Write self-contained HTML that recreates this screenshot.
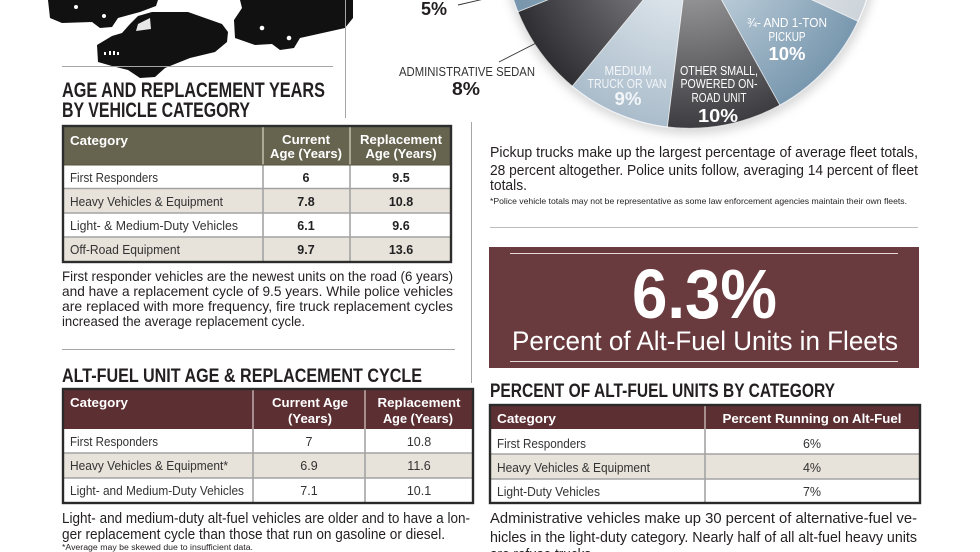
<!DOCTYPE html>
<html>
<head>
<meta charset="utf-8">
<style>
  html,body{margin:0;padding:0;background:#fff;}
  svg{display:block;}
  text{font-family:"Liberation Sans", sans-serif;}
</style>
</head>
<body>
<svg width="980" height="552" viewBox="0 0 980 552" xmlns="http://www.w3.org/2000/svg">
<defs>
  <radialGradient id="gOther" gradientUnits="userSpaceOnUse" cx="690" cy="-57" r="186">
    <stop offset="0.3" stop-color="#929295"/><stop offset="1" stop-color="#3c3c40"/>
  </radialGradient>
  <radialGradient id="gSedan" gradientUnits="userSpaceOnUse" cx="690" cy="-57" r="186">
    <stop offset="0.3" stop-color="#7c7c80"/><stop offset="1" stop-color="#2e2e32"/>
  </radialGradient>
  <radialGradient id="gMed" gradientUnits="userSpaceOnUse" cx="690" cy="-57" r="186">
    <stop offset="0.3" stop-color="#dce4ea"/><stop offset="1" stop-color="#aabccb"/>
  </radialGradient>
  <radialGradient id="gPick" gradientUnits="userSpaceOnUse" cx="690" cy="-57" r="186">
    <stop offset="0.3" stop-color="#bccdd9"/><stop offset="1" stop-color="#7897ae"/>
  </radialGradient>
  <radialGradient id="g5" gradientUnits="userSpaceOnUse" cx="690" cy="-57" r="186">
    <stop offset="0.3" stop-color="#a6bac9"/><stop offset="1" stop-color="#7694ab"/>
  </radialGradient>
  <radialGradient id="gLight" gradientUnits="userSpaceOnUse" cx="690" cy="-57" r="186">
    <stop offset="0.3" stop-color="#e8ebee"/><stop offset="1" stop-color="#cdd4da"/>
  </radialGradient>
  <filter id="sh" x="-20%" y="-20%" width="140%" height="140%">
    <feGaussianBlur stdDeviation="5"/>
  </filter>
  <clipPath id="pc"><circle cx="690" cy="-57" r="186"/></clipPath>
</defs>

<!-- ===== Vehicles ===== -->
<g fill="#111">
  <path d="M48,0 L158,0 L156,6 L140,12 L118,18 L112,27 L100,28 L92,22 L62,23 L50,18 Z"/>
  <path d="M97,45 L112,36 L122,33 L130,24 L138,16 L152,12 L188,12 L205,18 L222,24 L228,32 L227,42 L215,52 L190,58 L165,68 L155,77 L140,78 L128,70 L112,66 L98,62 Z"/>
  <path d="M240,0 L353,0 L353,18 L345,28 L300,38 L294,48 L280,50 L272,44 L255,45 L235,38 L234,20 L242,8 Z"/>
</g>
<g fill="#fff">
  <circle cx="76" cy="7" r="2"/>
  <circle cx="104" cy="16" r="2"/>
  <circle cx="262" cy="28" r="2.3"/>
  <circle cx="289" cy="38" r="2.3"/>
  <path d="M138,24 L150,18 L151,29 L136,31 Z" opacity="0.9"/>
  <rect x="104" y="52" width="2" height="3"/>
  <rect x="109" y="51" width="2" height="4"/>
  <rect x="113" y="51" width="2" height="4"/>
  <rect x="117" y="52" width="2" height="3"/>
</g>

<!-- divider lines -->
<g stroke="#a5a5a5" stroke-width="1" fill="none">
  <line x1="62" y1="66.5" x2="333" y2="66.5"/>
  <line x1="345.5" y1="0" x2="345.5" y2="118"/>
  <line x1="62" y1="349.5" x2="455" y2="349.5"/>
  <line x1="471.5" y1="122" x2="471.5" y2="383"/>
  <line x1="490" y1="227.5" x2="918" y2="227.5" stroke="#bdbdbd"/>
</g>

<!-- ===== Pie ===== -->
<circle cx="691" cy="-54" r="188" fill="#9a9a9a" filter="url(#sh)" opacity="0.4"/>
<g clip-path="url(#pc)">
  <rect x="480" y="-250" width="420" height="400" fill="url(#gLight)"/>
  <path d="M690,-57 L858.6,21.6 A186,186 0 0,1 780.2,105.7 Z" fill="url(#gPick)"/>
  <path d="M690,-57 L780.2,105.7 A186,186 0 0,1 667.3,127.6 Z" fill="url(#gOther)"/>
  <path d="M690,-57 L667.3,127.6 A186,186 0 0,1 571.9,86.7 Z" fill="url(#gMed)"/>
  <path d="M690,-57 L571.9,86.7 A186,186 0 0,1 517.3,12.1 Z" fill="url(#gSedan)"/>
  <path d="M690,-57 L517.3,12.1 A186,186 0 0,1 504.4,-44.7 Z" fill="url(#g5)"/>
  <g stroke="#ffffff" stroke-width="0.9" opacity="0.75">
    <line x1="690" y1="-57" x2="858.6" y2="21.6"/>
    <line x1="690" y1="-57" x2="780.2" y2="105.7"/>
    <line x1="690" y1="-57" x2="667.3" y2="127.6"/>
    <line x1="690" y1="-57" x2="571.9" y2="86.7"/>
    <line x1="690" y1="-57" x2="517.3" y2="12.1"/>
  </g>
</g>
<circle cx="690" cy="-57" r="185.5" fill="none" stroke="#ffffff" stroke-width="1.3" opacity="0.8"/>

<!-- pie labels -->
<g fill="#ffffff" text-anchor="middle">
  <text x="787" y="27" font-size="12.5" textLength="80" lengthAdjust="spacingAndGlyphs">¾- AND 1-TON</text>
  <text x="787" y="41" font-size="12.5" textLength="37" lengthAdjust="spacingAndGlyphs">PICKUP</text>
  <text x="787" y="60" font-size="18" font-weight="bold" textLength="37" lengthAdjust="spacingAndGlyphs">10%</text>
  <text x="628" y="75" font-size="12.5" textLength="47" lengthAdjust="spacingAndGlyphs" fill="#f3f6f8">MEDIUM</text>
  <text x="627" y="88" font-size="12.5" textLength="79" lengthAdjust="spacingAndGlyphs" fill="#f3f6f8">TRUCK OR VAN</text>
  <text x="628" y="105" font-size="18" font-weight="bold" textLength="27" lengthAdjust="spacingAndGlyphs" fill="#f3f6f8">9%</text>
  <text x="719" y="75" font-size="12.5" textLength="78" lengthAdjust="spacingAndGlyphs">OTHER SMALL,</text>
  <text x="719" y="88" font-size="12.5" textLength="77" lengthAdjust="spacingAndGlyphs">POWERED ON-</text>
  <text x="719" y="102" font-size="12.5" textLength="55" lengthAdjust="spacingAndGlyphs">ROAD UNIT</text>
  <text x="718" y="122" font-size="18" font-weight="bold" textLength="40" lengthAdjust="spacingAndGlyphs">10%</text>
</g>

<!-- outside labels -->
<line x1="458" y1="5" x2="484" y2="-1" stroke="#333" stroke-width="0.9"/>
<line x1="499" y1="62" x2="548" y2="37" stroke="#333" stroke-width="0.9"/>
<text x="421" y="15" font-size="18" font-weight="bold" fill="#231f20" textLength="26" lengthAdjust="spacingAndGlyphs">5%</text>
<text x="399" y="76" font-size="12.5" fill="#333" textLength="136" lengthAdjust="spacingAndGlyphs">ADMINISTRATIVE SEDAN</text>
<text x="452" y="95" font-size="18" font-weight="bold" fill="#231f20" textLength="28" lengthAdjust="spacingAndGlyphs">8%</text>

<!-- ===== Left titles ===== -->
<g fill="#231f20" font-weight="bold">
  <text x="62" y="97" font-size="21" textLength="263" lengthAdjust="spacingAndGlyphs">AGE AND REPLACEMENT YEARS</text>
  <text x="62" y="117" font-size="21" textLength="188" lengthAdjust="spacingAndGlyphs">BY VEHICLE CATEGORY</text>
  <text x="62" y="382" font-size="19" textLength="360" lengthAdjust="spacingAndGlyphs">ALT-FUEL UNIT AGE &amp; REPLACEMENT CYCLE</text>
  <text x="490" y="397" font-size="19" textLength="345" lengthAdjust="spacingAndGlyphs">PERCENT OF ALT-FUEL UNITS BY CATEGORY</text>
</g>

<!-- ===== Table 1 ===== -->
<rect x="63" y="126" width="388" height="39" fill="#66634f"/>
<rect x="63" y="165" width="388" height="23.5" fill="#ffffff"/>
<rect x="63" y="188.5" width="388" height="24.5" fill="#e7e2da"/>
<rect x="63" y="213" width="388" height="24" fill="#ffffff"/>
<rect x="63" y="237" width="388" height="25" fill="#e7e2da"/>
<g stroke="#a3a3a3" stroke-width="1.6">
  <line x1="63" y1="188.5" x2="451" y2="188.5"/>
  <line x1="63" y1="213" x2="451" y2="213"/>
  <line x1="63" y1="237" x2="451" y2="237"/>
  <line x1="263" y1="165" x2="263" y2="262"/>
  <line x1="350" y1="165" x2="350" y2="262"/>
</g>
<g stroke="#bdbaa8" stroke-width="1.6">
  <line x1="263" y1="126" x2="263" y2="165"/>
  <line x1="350" y1="126" x2="350" y2="165"/>
</g>
<line x1="63" y1="165" x2="451" y2="165" stroke="#55533f" stroke-width="1"/>
<rect x="63" y="126" width="388" height="136" fill="none" stroke="#2d2d2d" stroke-width="2.4"/>
<g fill="#ffffff" font-weight="bold" font-size="13">
  <text x="70" y="145" textLength="58" lengthAdjust="spacingAndGlyphs">Category</text>
  <text x="306" y="144" text-anchor="middle" textLength="48" lengthAdjust="spacingAndGlyphs">Current</text>
  <text x="306" y="158" text-anchor="middle" textLength="72" lengthAdjust="spacingAndGlyphs">Age (Years)</text>
  <text x="401" y="144" text-anchor="middle" textLength="82" lengthAdjust="spacingAndGlyphs">Replacement</text>
  <text x="401" y="158" text-anchor="middle" textLength="71" lengthAdjust="spacingAndGlyphs">Age (Years)</text>
</g>
<g fill="#333" font-size="12.5">
  <text x="70" y="182" textLength="88" lengthAdjust="spacingAndGlyphs">First Responders</text>
  <text x="70" y="206" textLength="153" lengthAdjust="spacingAndGlyphs">Heavy Vehicles &amp; Equipment</text>
  <text x="70" y="230" textLength="168" lengthAdjust="spacingAndGlyphs">Light- &amp; Medium-Duty Vehicles</text>
  <text x="70" y="254" textLength="110" lengthAdjust="spacingAndGlyphs">Off-Road Equipment</text>
</g>
<g fill="#222" font-size="12.5" font-weight="bold" text-anchor="middle">
  <text x="306" y="182">6</text><text x="401" y="182">9.5</text>
  <text x="306" y="206">7.8</text><text x="401" y="206">10.8</text>
  <text x="306" y="230">6.1</text><text x="401" y="230">9.6</text>
  <text x="306" y="254">9.7</text><text x="401" y="254">13.6</text>
</g>

<!-- paragraph 1 -->
<g fill="#231f20" font-size="14">
  <text x="62" y="281" textLength="391" lengthAdjust="spacingAndGlyphs">First responder vehicles are the newest units on the road (6 years)</text>
  <text x="62" y="296" textLength="391" lengthAdjust="spacingAndGlyphs">and have a replacement cycle of 9.5 years. While police vehicles</text>
  <text x="62" y="311" textLength="391" lengthAdjust="spacingAndGlyphs">are replaced with more frequency, fire truck replacement cycles</text>
  <text x="62" y="326" textLength="243" lengthAdjust="spacingAndGlyphs">increased the average replacement cycle.</text>
</g>

<!-- ===== Table 2 ===== -->
<rect x="63" y="389" width="410" height="40" fill="#5c2f33"/>
<rect x="63" y="429" width="410" height="24" fill="#ffffff"/>
<rect x="63" y="453" width="410" height="25" fill="#e7e2da"/>
<rect x="63" y="478" width="410" height="25" fill="#ffffff"/>
<g stroke="#a3a3a3" stroke-width="1.6">
  <line x1="63" y1="453" x2="473" y2="453"/>
  <line x1="63" y1="478" x2="473" y2="478"/>
  <line x1="253" y1="429" x2="253" y2="503"/>
  <line x1="365" y1="429" x2="365" y2="503"/>
</g>
<g stroke="#b9a6a7" stroke-width="1.6">
  <line x1="253" y1="389" x2="253" y2="429"/>
  <line x1="365" y1="389" x2="365" y2="429"/>
</g>
<rect x="63" y="389" width="410" height="114" fill="none" stroke="#2a2a2a" stroke-width="2.4"/>
<g fill="#ffffff" font-weight="bold" font-size="13">
  <text x="70" y="407" textLength="58" lengthAdjust="spacingAndGlyphs">Category</text>
  <text x="310" y="407" text-anchor="middle" textLength="76" lengthAdjust="spacingAndGlyphs">Current Age</text>
  <text x="310" y="423" text-anchor="middle" textLength="44" lengthAdjust="spacingAndGlyphs">(Years)</text>
  <text x="419" y="407" text-anchor="middle" textLength="83" lengthAdjust="spacingAndGlyphs">Replacement</text>
  <text x="418" y="423" text-anchor="middle" textLength="70" lengthAdjust="spacingAndGlyphs">Age (Years)</text>
</g>
<g fill="#333" font-size="12.5">
  <text x="70" y="446" textLength="88" lengthAdjust="spacingAndGlyphs">First Responders</text>
  <text x="70" y="470" textLength="158" lengthAdjust="spacingAndGlyphs">Heavy Vehicles &amp; Equipment*</text>
  <text x="70" y="495" textLength="174" lengthAdjust="spacingAndGlyphs">Light- and Medium-Duty Vehicles</text>
</g>
<g fill="#333" font-size="12.5" text-anchor="middle">
  <text x="309" y="446">7</text><text x="419" y="446">10.8</text>
  <text x="309" y="470">6.9</text><text x="419" y="470">11.6</text>
  <text x="309" y="495">7.1</text><text x="419" y="495">10.1</text>
</g>

<!-- paragraph 2 -->
<g fill="#231f20">
  <text x="62" y="523" font-size="14.5" textLength="408" lengthAdjust="spacingAndGlyphs">Light- and medium-duty alt-fuel vehicles are older and to have a lon-</text>
  <text x="62" y="539" font-size="14.5" textLength="383" lengthAdjust="spacingAndGlyphs">ger replacement cycle than those that run on gasoline or diesel.</text>
  <text x="62" y="550" font-size="8" textLength="191" lengthAdjust="spacingAndGlyphs">*Average may be skewed due to insufficient data.</text>
</g>

<!-- ===== Right column ===== -->
<g fill="#231f20">
  <text x="490" y="157" font-size="15" textLength="428" lengthAdjust="spacingAndGlyphs">Pickup trucks make up the largest percentage of average fleet totals,</text>
  <text x="490" y="175" font-size="15" textLength="428" lengthAdjust="spacingAndGlyphs">28 percent altogether. Police units follow, averaging 14 percent of fleet</text>
  <text x="490" y="190" font-size="15" textLength="37" lengthAdjust="spacingAndGlyphs">totals.</text>
  <text x="490" y="204" font-size="8.5" textLength="417" lengthAdjust="spacingAndGlyphs">*Police vehicle totals may not be representative as some law enforcement agencies maintain their own fleets.</text>
</g>

<!-- maroon box -->
<rect x="489" y="247" width="430" height="121" fill="#6a3b3e"/>
<line x1="510" y1="253.5" x2="898" y2="253.5" stroke="#e6d8d8" stroke-width="1"/>
<line x1="510" y1="361.5" x2="898" y2="361.5" stroke="#e6d8d8" stroke-width="1"/>
<text x="632" y="318" font-size="70" font-weight="bold" fill="#ffffff" textLength="145" lengthAdjust="spacingAndGlyphs">6.3%</text>
<text x="512" y="350" font-size="27" fill="#ffffff" textLength="386" lengthAdjust="spacingAndGlyphs">Percent of Alt-Fuel Units in Fleets</text>

<!-- ===== Table 3 ===== -->
<rect x="490" y="405" width="430" height="24" fill="#5c2f33"/>
<rect x="490" y="429" width="430" height="25" fill="#ffffff"/>
<rect x="490" y="454" width="430" height="25" fill="#e7e2da"/>
<rect x="490" y="479" width="430" height="24" fill="#ffffff"/>
<g stroke="#a3a3a3" stroke-width="1.6">
  <line x1="490" y1="454" x2="920" y2="454"/>
  <line x1="490" y1="479" x2="920" y2="479"/>
  <line x1="705" y1="429" x2="705" y2="503"/>
</g>
<line x1="705" y1="405" x2="705" y2="429" stroke="#b9a6a7" stroke-width="1.6"/>
<rect x="490" y="405" width="430" height="98" fill="none" stroke="#2a2a2a" stroke-width="2.4"/>
<g fill="#ffffff" font-weight="bold" font-size="13">
  <text x="497" y="423" textLength="59" lengthAdjust="spacingAndGlyphs">Category</text>
  <text x="812" y="423" text-anchor="middle" textLength="179" lengthAdjust="spacingAndGlyphs">Percent Running on Alt-Fuel</text>
</g>
<g fill="#333" font-size="12.5">
  <text x="497" y="448" textLength="89" lengthAdjust="spacingAndGlyphs">First Responders</text>
  <text x="497" y="472" textLength="153" lengthAdjust="spacingAndGlyphs">Heavy Vehicles &amp; Equipment</text>
  <text x="497" y="496" textLength="103" lengthAdjust="spacingAndGlyphs">Light-Duty Vehicles</text>
</g>
<g fill="#333" font-size="12.5" text-anchor="middle">
  <text x="812" y="448">6%</text>
  <text x="812" y="472">4%</text>
  <text x="812" y="496">7%</text>
</g>

<!-- paragraph 4 -->
<g fill="#231f20" font-size="15">
  <text x="490" y="523" textLength="427" lengthAdjust="spacingAndGlyphs">Administrative vehicles make up 30 percent of alternative-fuel ve-</text>
  <text x="490" y="542" textLength="427" lengthAdjust="spacingAndGlyphs">hicles in the light-duty category. Nearly half of all alt-fuel heavy units</text>
  <text x="490" y="559" textLength="105" lengthAdjust="spacingAndGlyphs">are refuse trucks.</text>
</g>
</svg>
</body>
</html>
